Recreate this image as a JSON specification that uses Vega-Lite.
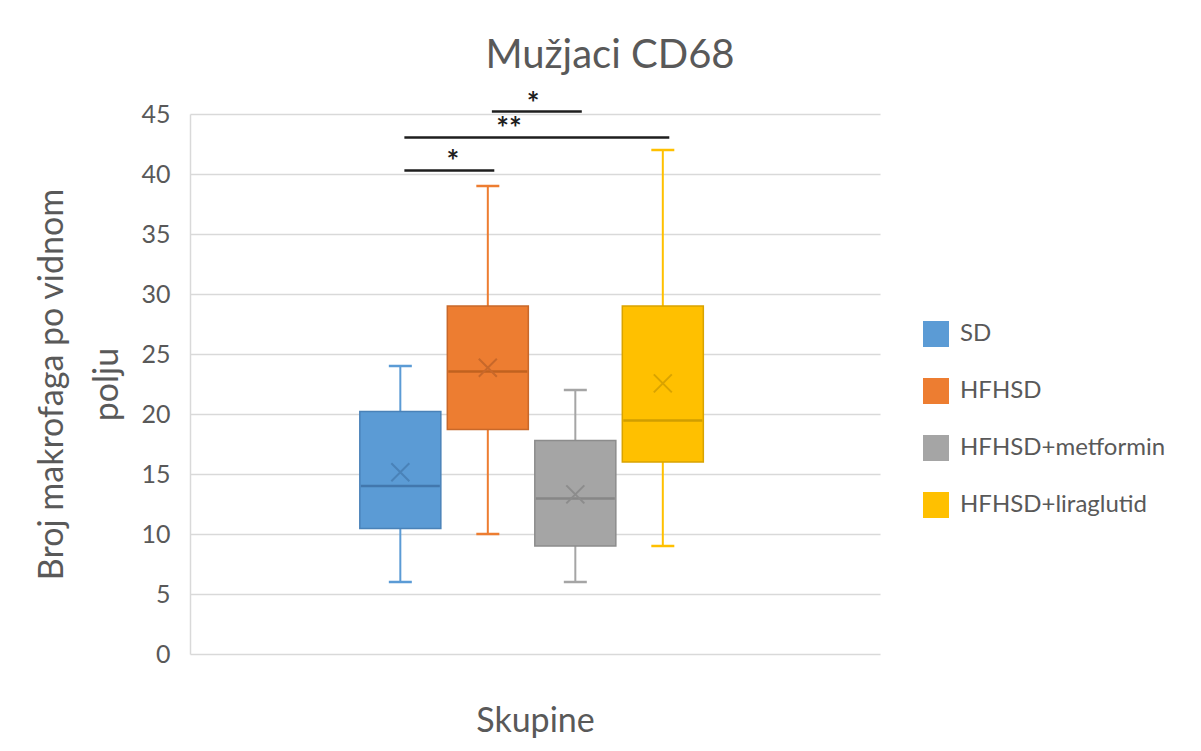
{
  "$schema": "https://vega.github.io/schema/vega-lite/v6.json",
  "width": 690,
  "height": 540,
  "autosize": {"type": "none"},
  "padding": {"left": 190, "top": 114, "right": 321, "bottom": 97},
  "background": "white",
  "title": {"text": "Mužjaci CD68", "fontSize": 40, "font": "Lato", "fontWeight": "normal", "color": "#595959", "anchor": "middle", "frame": "group", "dx": 75, "offset": -18, "baseline": "alphabetic"},
  "config": {"view": {"stroke": null}, "font": "Lato"},
  "datasets": {
    "boxes": [
      {"group": "SD", "min": 6, "q1": 10.45, "median": 14, "q3": 20.2, "max": 24, "mean": 15.15},
      {"group": "HFHSD", "min": 10, "q1": 18.7, "median": 23.55, "q3": 29, "max": 39, "mean": 23.85},
      {"group": "HFHSD+metformin", "min": 6, "q1": 9, "median": 12.95, "q3": 17.8, "max": 22, "mean": 13.3},
      {"group": "HFHSD+liraglutid", "min": 9, "q1": 16, "median": 19.45, "q3": 29, "max": 42, "mean": 22.55}
    ],
    "sig": [
      {"pair": "a", "from": "SD", "to": "HFHSD", "y": 40.3, "label": "*"},
      {"pair": "b", "from": "SD", "to": "HFHSD+liraglutid", "y": 43.05, "label": "**"},
      {"pair": "c", "from": "HFHSD", "to": "HFHSD+metformin", "y": 45.2, "label": "*"}
    ]
  },
  "layer": [
    {
      "data": {"name": "boxes"},
      "mark": {"type": "rule", "strokeWidth": 2, "opacity": 1},
      "encoding": {
        "x": {"field": "group", "type": "nominal",
          "scale": {"domain": [" ", "SD", "HFHSD", "HFHSD+metformin", "HFHSD+liraglutid", "  "], "paddingInner": 0.074, "paddingOuter": 0.98, "align": 0.48},
          "axis": {"title": "Skupine", "labels": false, "ticks": false, "tickSize": 0, "domain": false, "grid": false, "titleFontSize": 34, "titleColor": "#595959", "titleFont": "Lato", "titleFontWeight": "normal", "titleBaseline": "alphabetic", "titleAlign": "center", "titleX": 345, "titleY": 77}},
        "y": {"field": "min", "type": "quantitative",
          "scale": {"domain": [0, 45], "nice": false},
          "axis": {"title": ["Broj makrofaga po vidnom", "polju"], "values": [0, 5, 10, 15, 20, 25, 30, 35, 40, 45], "grid": true, "gridColor": "#D9D9D9", "gridWidth": 1.5, "ticks": false, "tickSize": 0, "domain": true, "domainColor": "#D9D9D9", "domainWidth": 1.5, "labelFontSize": 25, "labelFont": "Lato", "labelColor": "#595959", "labelPadding": 20, "titleFontSize": 34, "titleFont": "Lato", "titleColor": "#595959", "titleFontWeight": "normal", "titleAngle": -90, "titleX": -128, "titleY": 270, "titleAlign": "center", "titleBaseline": "alphabetic", "titleLineHeight": 55}},
        "y2": {"field": "max"},
        "color": {"field": "group", "type": "nominal", "scale": {"domain": ["SD", "HFHSD", "HFHSD+metformin", "HFHSD+liraglutid"], "range": ["#5B9BD5", "#ED7D31", "#A5A5A5", "#FFC000"]}}
      }
    },
    {
      "data": {"name": "boxes"},
      "mark": {"type": "tick", "size": 23, "thickness": 2.5, "opacity": 1},
      "encoding": {
        "x": {"field": "group", "type": "nominal", "scale": {"domain": [" ", "SD", "HFHSD", "HFHSD+metformin", "HFHSD+liraglutid", "  "], "paddingInner": 0.074, "paddingOuter": 0.98, "align": 0.48}},
        "y": {"field": "min", "type": "quantitative", "scale": {"domain": [0, 45], "nice": false}},
        "color": {"field": "group", "type": "nominal", "scale": {"domain": ["SD", "HFHSD", "HFHSD+metformin", "HFHSD+liraglutid"], "range": ["#5B9BD5", "#ED7D31", "#A5A5A5", "#FFC000"]}}
      }
    },
    {
      "data": {"name": "boxes"},
      "mark": {"type": "tick", "size": 23, "thickness": 2.5, "opacity": 1},
      "encoding": {
        "x": {"field": "group", "type": "nominal", "scale": {"domain": [" ", "SD", "HFHSD", "HFHSD+metformin", "HFHSD+liraglutid", "  "], "paddingInner": 0.074, "paddingOuter": 0.98, "align": 0.48}},
        "y": {"field": "max", "type": "quantitative", "scale": {"domain": [0, 45], "nice": false}},
        "color": {"field": "group", "type": "nominal", "scale": {"domain": ["SD", "HFHSD", "HFHSD+metformin", "HFHSD+liraglutid"], "range": ["#5B9BD5", "#ED7D31", "#A5A5A5", "#FFC000"]}}
      }
    },
    {
      "data": {"name": "boxes"},
      "mark": {"type": "bar", "strokeWidth": 1.5, "opacity": 1},
      "encoding": {
        "x": {"field": "group", "type": "nominal", "scale": {"domain": [" ", "SD", "HFHSD", "HFHSD+metformin", "HFHSD+liraglutid", "  "], "paddingInner": 0.074, "paddingOuter": 0.98, "align": 0.48}},
        "y": {"field": "q1", "type": "quantitative", "scale": {"domain": [0, 45], "nice": false}},
        "y2": {"field": "q3"},
        "color": {"field": "group", "type": "nominal",
          "scale": {"domain": ["SD", "HFHSD", "HFHSD+metformin", "HFHSD+liraglutid"], "range": ["#5B9BD5", "#ED7D31", "#A5A5A5", "#FFC000"]},
          "legend": {"title": null, "orient": "none", "legendX": 733, "legendY": 207, "symbolType": "square", "symbolSize": 676, "symbolStrokeWidth": 0, "labelFontSize": 24, "labelFont": "Lato", "labelColor": "#595959", "labelLimit": 400, "rowPadding": 31, "labelOffset": 11, "symbolOpacity": 1}},
        "stroke": {"field": "group", "type": "nominal", "scale": {"domain": ["SD", "HFHSD", "HFHSD+metformin", "HFHSD+liraglutid"], "range": ["#4A82B8", "#C8682A", "#8C8C8C", "#D9A300"]}, "legend": null}
      }
    },
    {
      "data": {"name": "boxes"},
      "mark": {"type": "tick", "size": 79, "thickness": 2.5, "opacity": 1},
      "encoding": {
        "x": {"field": "group", "type": "nominal", "scale": {"domain": [" ", "SD", "HFHSD", "HFHSD+metformin", "HFHSD+liraglutid", "  "], "paddingInner": 0.074, "paddingOuter": 0.98, "align": 0.48}},
        "y": {"field": "median", "type": "quantitative", "scale": {"domain": [0, 45], "nice": false}},
        "fill": {"field": "group", "type": "nominal", "scale": {"domain": ["SD", "HFHSD", "HFHSD+metformin", "HFHSD+liraglutid"], "range": ["#4277AD", "#C0621F", "#878787", "#D09E00"]}, "legend": null}
      }
    },
    {
      "data": {"name": "boxes"},
      "mark": {"type": "point", "shape": "M-1,-1L1,1M1,-1L-1,1", "size": 324, "filled": false, "strokeWidth": 2, "opacity": 1},
      "encoding": {
        "x": {"field": "group", "type": "nominal", "scale": {"domain": [" ", "SD", "HFHSD", "HFHSD+metformin", "HFHSD+liraglutid", "  "], "paddingInner": 0.074, "paddingOuter": 0.98, "align": 0.48}},
        "y": {"field": "mean", "type": "quantitative", "scale": {"domain": [0, 45], "nice": false}},
        "stroke": {"field": "group", "type": "nominal", "scale": {"domain": ["SD", "HFHSD", "HFHSD+metformin", "HFHSD+liraglutid"], "range": ["#4A82B8", "#C8682A", "#8C8C8C", "#D9A300"]}, "legend": null}
      }
    },
    {
      "data": {"name": "sig"},
      "mark": {"type": "rule", "strokeWidth": 2.5, "color": "#1E1E1E"},
      "encoding": {
        "x": {"field": "from", "type": "nominal", "bandPosition": 0.55, "scale": {"domain": [" ", "SD", "HFHSD", "HFHSD+metformin", "HFHSD+liraglutid", "  "], "paddingInner": 0.074, "paddingOuter": 0.98, "align": 0.48}},
        "x2": {"field": "to", "bandPosition": 0.58},
        "y": {"field": "y", "type": "quantitative", "scale": {"domain": [0, 45], "nice": false}}
      }
    },
    {
      "data": {"name": "sig"},
      "transform": [{"filter": "datum.pair == 'a'"}],
      "mark": {"type": "text", "fontSize": 30, "fontWeight": "bold", "baseline": "alphabetic", "dy": 2, "color": "#1E1E1E", "font": "Lato"},
      "encoding": {
        "x": {"field": "from", "type": "nominal", "bandPosition": 1.15, "scale": {"domain": [" ", "SD", "HFHSD", "HFHSD+metformin", "HFHSD+liraglutid", "  "], "paddingInner": 0.074, "paddingOuter": 0.98, "align": 0.48}},
        "y": {"field": "y", "type": "quantitative", "scale": {"domain": [0, 45], "nice": false}},
        "text": {"field": "label"}
      }
    },
    {
      "data": {"name": "sig"},
      "transform": [{"filter": "datum.pair == 'b'"}],
      "mark": {"type": "text", "fontSize": 30, "fontWeight": "bold", "baseline": "alphabetic", "dy": 2, "color": "#1E1E1E", "font": "Lato"},
      "encoding": {
        "x": {"field": "from", "type": "nominal", "bandPosition": 1.84, "scale": {"domain": [" ", "SD", "HFHSD", "HFHSD+metformin", "HFHSD+liraglutid", "  "], "paddingInner": 0.074, "paddingOuter": 0.98, "align": 0.48}},
        "y": {"field": "y", "type": "quantitative", "scale": {"domain": [0, 45], "nice": false}},
        "text": {"field": "label"}
      }
    },
    {
      "data": {"name": "sig"},
      "transform": [{"filter": "datum.pair == 'c'"}],
      "mark": {"type": "text", "fontSize": 30, "fontWeight": "bold", "baseline": "alphabetic", "dy": 2, "color": "#1E1E1E", "font": "Lato"},
      "encoding": {
        "x": {"field": "from", "type": "nominal", "bandPosition": 1.06, "scale": {"domain": [" ", "SD", "HFHSD", "HFHSD+metformin", "HFHSD+liraglutid", "  "], "paddingInner": 0.074, "paddingOuter": 0.98, "align": 0.48}},
        "y": {"field": "y", "type": "quantitative", "scale": {"domain": [0, 45], "nice": false}},
        "text": {"field": "label"}
      }
    }
  ]
}
